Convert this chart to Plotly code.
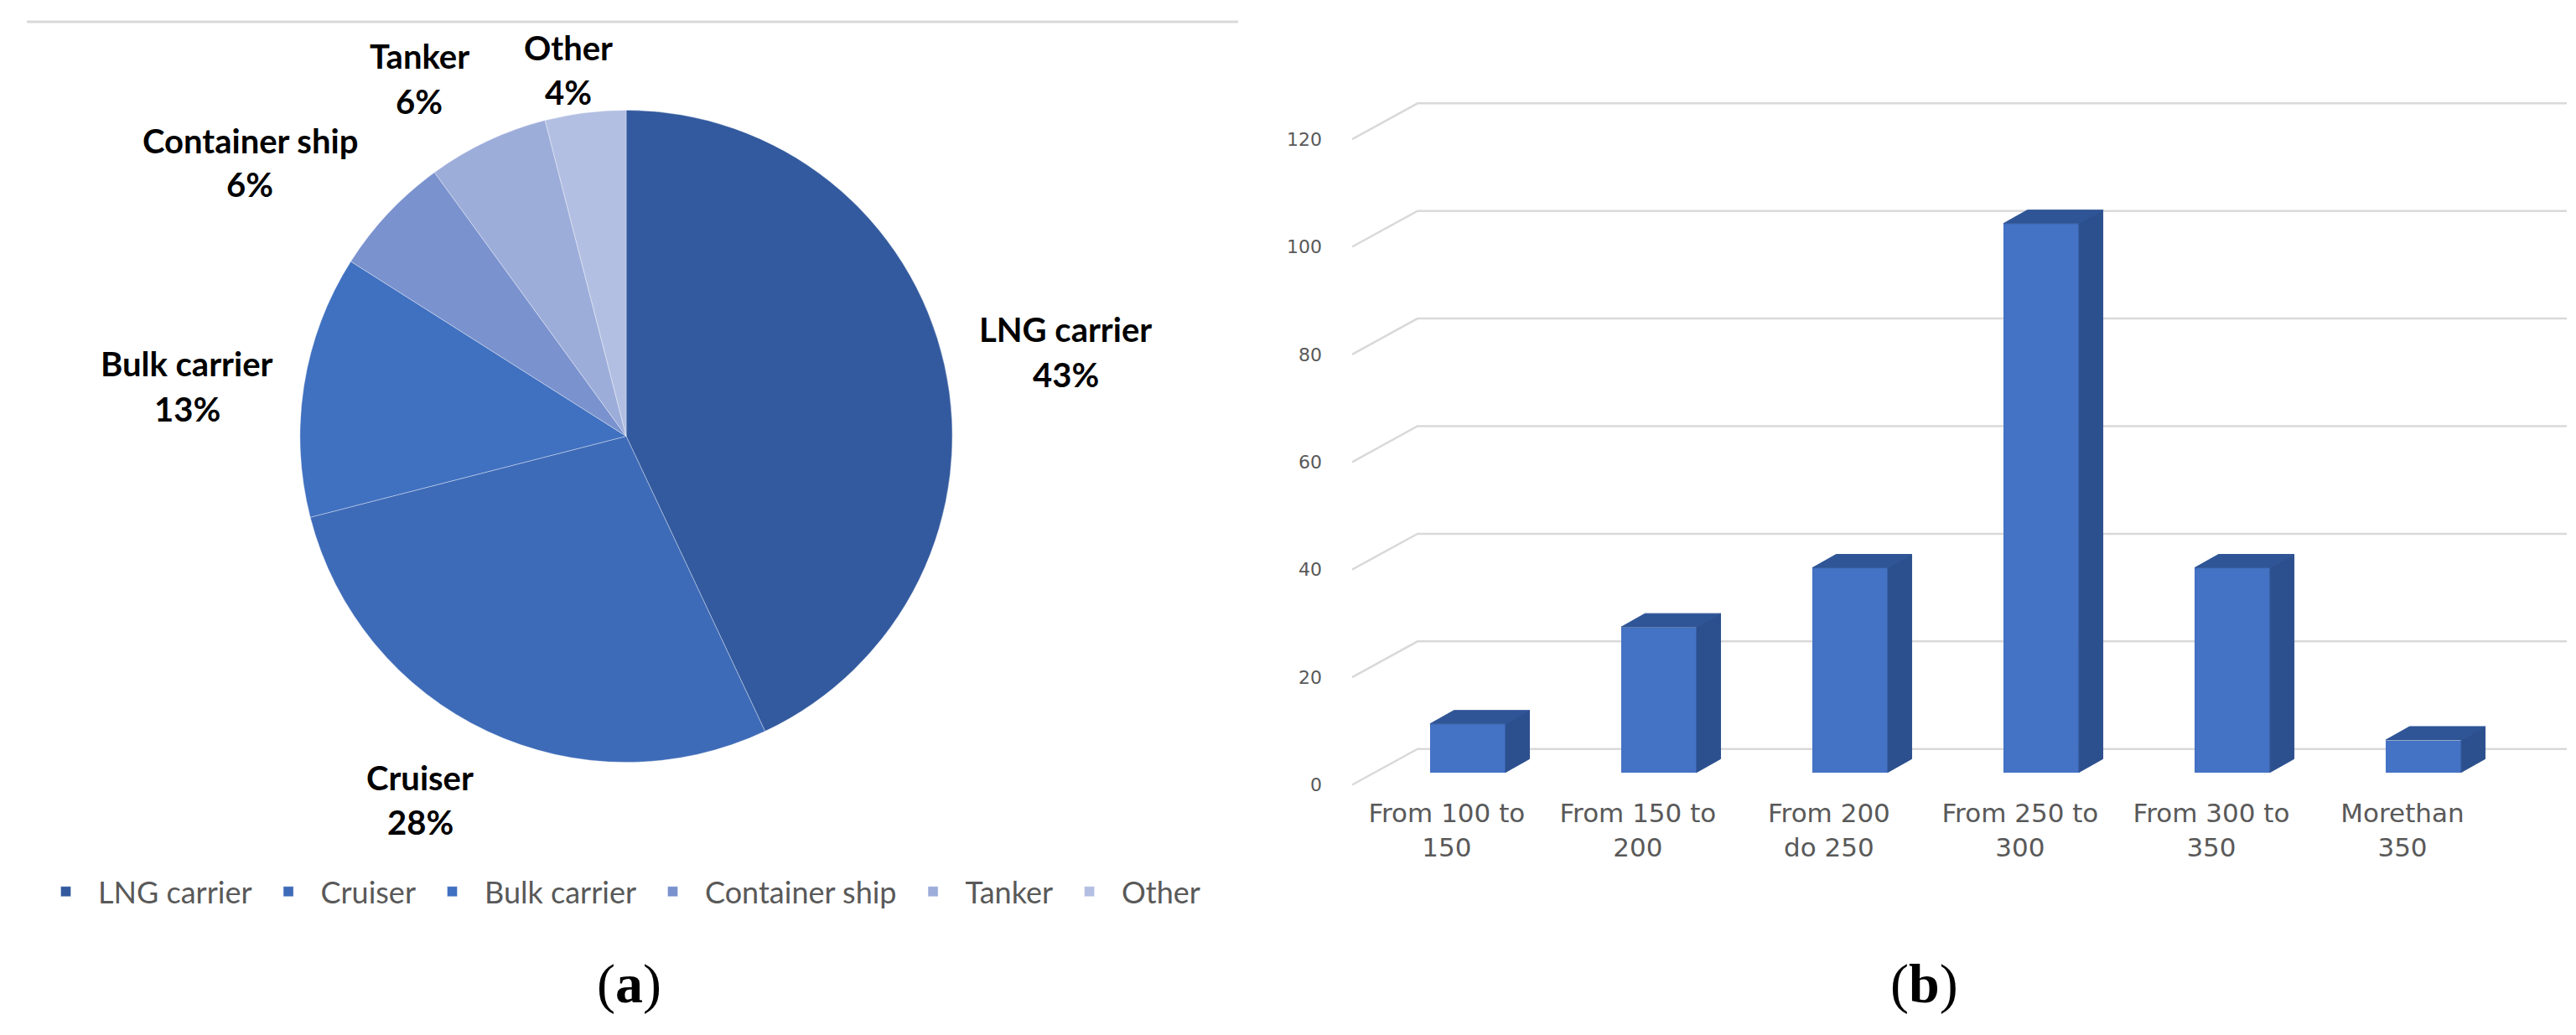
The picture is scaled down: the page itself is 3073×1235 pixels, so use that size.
import plotly.graph_objects as go

# ---- data ----
ship_types = ["LNG carrier", "Cruiser", "Bulk carrier", "Container ship", "Tanker", "Other"]
ship_shares = [43, 28, 13, 6, 6, 4]
ship_colours = ["#335A9E", "#3E6BB8", "#4070C0", "#7A92CE", "#9DADDA", "#B3BFE2"]

length_classes = ["From 100 to<br>150", "From 150 to<br>200", "From 200<br>do 250",
                  "From 250 to<br>300", "From 300 to<br>350", "Morethan<br>350"]
ship_counts = [9, 27, 38, 102, 38, 6]
y_ticks = [0, 20, 40, 60, 80, 100, 120]

W, H = 3073, 1235

# fake 3-D geometry, in data units of the bar chart
BAR_W = 0.395
BAR_DX, BAR_DY = 0.125, 2.5       # depth of each column
WALL_X, WALL_DY = -0.263, 4.34     # back wall left edge / lift
FRONT_X, FRONT_DY = -0.605, -2.33  # front (label) plane
GRID_END = 5.75
LABEL_DX = -0.11
X_RANGE = [-0.627, 5.776]
Y_RANGE = [-3.41, 126.8]
X_DOM = [1600 / W, 3060 / W]
Y_DOM = [1 - 940 / H, 1 - 100 / H]

FRONT = "#4472C4"
SIDE = "#2C4F8E"
TOP = "#2F5597"
GRID = "#D9D9D9"

fig = go.Figure()

# ---- (a) pie ----
fig.add_trace(go.Pie(
    labels=ship_types, values=ship_shares, sort=False, direction="clockwise",
    marker=dict(colors=ship_colours, line=dict(color="rgba(255,255,255,0.35)", width=1)),
    textinfo="none", hoverinfo="label+percent",
    domain=dict(x=[348 / W, 1130 / W], y=[1 - 906 / H, 1 - 124 / H]),
))

# name / percent centres of the outside labels
label_pos = {
    "LNG carrier": (1263, 387, 441), "Cruiser": (493, 924, 978),
    "Bulk carrier": (215, 428, 482), "Container ship": (290, 161, 213),
    "Tanker": (492, 59, 114), "Other": (670, 49, 103),
}
for name, share in zip(ship_types, ship_shares):
    px, py1, py2 = label_pos[name]
    for txt, py in [(name, py1), (f"{share}%", py2)]:
        fig.add_annotation(x=px / W, y=1 - py / H, xref="paper", yref="paper",
                           text=f"<b>{txt}</b>", showarrow=False,
                           xanchor="center", yanchor="middle",
                           font=dict(family="Lato", size=40, color="#000000"))

# ---- (b) 3-D looking columns ----
xs = list(range(len(ship_counts)))

# back wall gridlines with the depth stroke to the front plane (base axes, behind bars)
gx, gy = [], []
for v in y_ticks:
    gx += [FRONT_X, WALL_X, GRID_END, None]
    gy += [v + FRONT_DY, v + WALL_DY, v + WALL_DY, None]
fig.add_trace(go.Scatter(x=gx, y=gy, mode="lines", line=dict(color=GRID, width=2.5),
                         hoverinfo="skip", showlegend=False, xaxis="x", yaxis="y"))

fig.add_trace(go.Bar(x=xs, y=ship_counts, width=BAR_W, marker=dict(color=FRONT, line=dict(width=0)),
                     showlegend=False, xaxis="x2", yaxis="y2",
                     hovertext=[c.replace("<br>", " ") for c in length_classes], hoverinfo="text+y"))

# side and top faces
sx, sy, tx, ty = [], [], [], []
for x, v in zip(xs, ship_counts):
    r = x + BAR_W / 2
    l = x - BAR_W / 2
    sx += [r, r + BAR_DX, r + BAR_DX, r, r, None]
    sy += [0, BAR_DY, v + BAR_DY, v, 0, None]
    tx += [l, r, r + BAR_DX, l + BAR_DX, l, None]
    ty += [v, v, v + BAR_DY, v + BAR_DY, v, None]
fig.add_trace(go.Scatter(x=sx, y=sy, mode="lines", fill="toself", fillcolor=SIDE,
                         line=dict(color=SIDE, width=1), hoverinfo="skip",
                         showlegend=False, xaxis="x2", yaxis="y2"))
fig.add_trace(go.Scatter(x=tx, y=ty, mode="lines", fill="toself", fillcolor=TOP,
                         line=dict(color=TOP, width=1), hoverinfo="skip",
                         showlegend=False, xaxis="x2", yaxis="y2"))

hidden = dict(showgrid=False, zeroline=False, showline=False, showticklabels=False, ticks="")

fig.update_layout(
    width=W, height=H,
    margin=dict(l=0, r=0, t=0, b=0),
    paper_bgcolor="white", plot_bgcolor="white",
    font=dict(family="Lato", color="#595959"),
    xaxis=dict(domain=X_DOM, range=X_RANGE,
               tickmode="array", tickvals=[x + LABEL_DX for x in xs], ticktext=length_classes,
               showgrid=False, zeroline=False, showline=False, ticks="",
               tickfont=dict(family="DejaVu Sans", size=31, color="#595959"),
               ticklabelstandoff=6),
    yaxis=dict(domain=Y_DOM, range=Y_RANGE,
               tickmode="array", tickvals=[v + FRONT_DY for v in y_ticks],
               ticktext=[str(v) for v in y_ticks],
               showgrid=False, zeroline=False, showline=False, ticks="",
               tickfont=dict(family="DejaVu Sans", size=22, color="#595959"),
               ticklabelstandoff=30),
    xaxis2=dict(overlaying="x", range=X_RANGE, **hidden),
    yaxis2=dict(overlaying="y", range=Y_RANGE, **hidden),
    legend=dict(orientation="h", x=32 / W, xanchor="left", y=1 - 1061 / H, yanchor="middle",
                font=dict(family="Lato", size=36, color="#595959"),
                itemwidth=67, bgcolor="rgba(0,0,0,0)"),
    bargap=0,
    shapes=[dict(type="line", xref="paper", yref="paper", x0=24 / W, x1=1469 / W,
                 y0=1 - 18 / H, y1=1 - 18 / H, line=dict(color=GRID, width=3))],
)

for tag, cx, cy in [("a", 742, 1172), ("b", 2287, 1172)]:
    fig.add_annotation(x=cx / W, y=1 - cy / H, xref="paper", yref="paper",
                       text=f"(<b>{tag}</b>)", showarrow=False,
                       xanchor="center", yanchor="middle",
                       font=dict(family="Liberation Serif", size=66, color="#000000"))

fig.write_html("out.html")
